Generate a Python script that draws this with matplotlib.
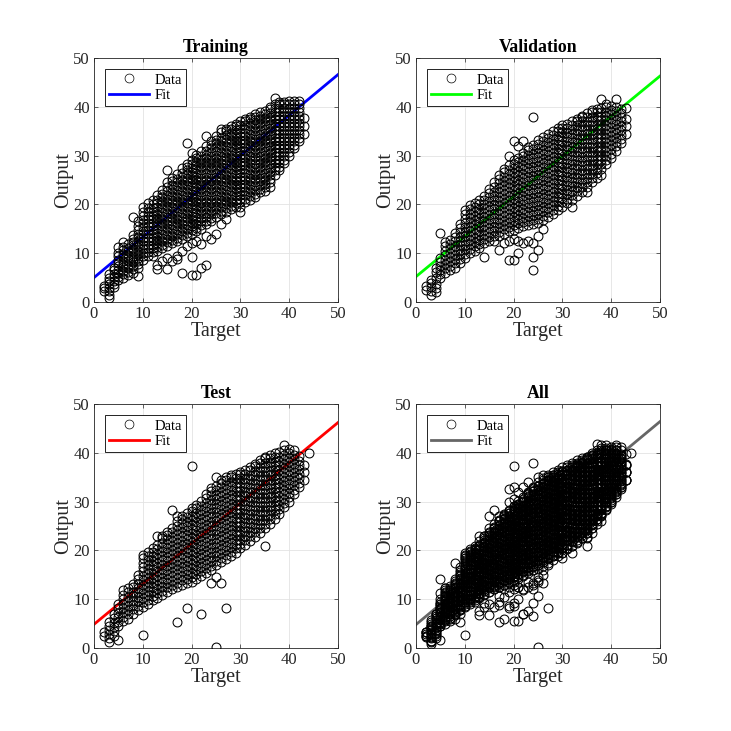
import matplotlib
matplotlib.use("Agg")
import matplotlib.pyplot as plt
from matplotlib.lines import Line2D

plt.rcParams['font.family'] = ['Liberation Serif', 'DejaVu Serif']

# ---------------- data ----------------
train_targets = [2, 3, 4, 5, 6, 7, 8, 9, 10, 11, 12, 13, 14, 15, 16, 17, 18, 19, 20, 21, 22,
                 23, 24, 25, 26, 27, 28, 29, 30, 31, 32, 33, 34, 35, 36, 37, 38, 39, 40, 41, 42, 43]
train_outputs = [
    [2.2, 2.8, 3.2],
    [0.8, 1.5, 2.2, 2.9, 3.6, 4.3, 5.0, 5.7],
    [3.0, 3.7, 4.4, 5.1, 5.8, 6.5, 7.0],
    [4.5, 5.2, 5.9, 6.6, 7.3, 8.0, 8.7, 9.4, 10.1, 11.2],
    [5.0, 5.7, 6.4, 7.1, 7.8, 8.5, 9.2, 9.9, 10.6, 11.3, 12.2],
    [5.5, 6.2, 6.9, 7.6, 8.3, 9.0, 9.7, 10.4, 11.1, 11.8],
    [6.0, 6.7, 7.4, 8.1, 8.8, 9.5, 10.2, 10.9, 11.6, 12.3, 13.0, 13.8, 17.5],
    [5.3, 7.0, 7.7, 8.4, 9.1, 9.8, 10.5, 11.2, 11.9, 12.6, 13.3, 14.0, 14.7, 15.5, 16.5],
    [8.6, 9.4, 10.1, 10.9, 11.6, 12.4, 13.1, 13.9, 14.6, 15.4, 16.1, 16.9, 17.6, 18.4, 19.5],
    [9.5, 10.2, 11.0, 11.7, 12.5, 13.2, 14.0, 14.7, 15.5, 16.2, 17.0, 17.7, 18.5, 19.2, 20.2],
    [9.5, 10.2, 11.0, 11.7, 12.5, 13.2, 14.0, 14.7, 15.5, 16.2, 17.0, 17.7, 18.5, 19.2, 20.0, 20.8],
    [6.8, 7.5, 10.5, 11.2, 12.0, 12.7, 13.5, 14.2, 15.0, 15.7, 16.5, 17.2, 18.0, 18.7, 19.5, 20.2,
     21.0, 22.0],
    [8.5, 11.0, 11.7, 12.5, 13.2, 14.0, 14.7, 15.5, 16.2, 17.0, 17.7, 18.5, 19.2, 20.0, 20.7, 21.5,
     22.2, 23.0],
    [6.8, 9.0, 11.5, 12.2, 13.0, 13.7, 14.5, 15.2, 16.0, 16.7, 17.5, 18.2, 19.0, 19.7, 20.5, 21.2,
     22.0, 22.7, 23.5, 24.5, 27.0],
    [8.5, 12.0, 12.7, 13.5, 14.2, 15.0, 15.7, 16.5, 17.2, 18.0, 18.7, 19.5, 20.2, 21.0, 21.7, 22.5,
     23.2, 24.0, 24.7, 25.5],
    [8.8, 9.5, 12.5, 13.2, 14.0, 14.7, 15.5, 16.2, 17.0, 17.7, 18.5, 19.2, 20.0, 20.7, 21.5, 22.2,
     23.0, 23.7, 24.5, 25.2, 26.2],
    [6.0, 10.5, 13.0, 13.7, 14.5, 15.2, 16.0, 16.7, 17.5, 18.2, 19.0, 19.7, 20.5, 21.2, 22.0, 22.7,
     23.5, 24.2, 25.0, 25.7, 26.5, 27.5],
    [11.5, 13.5, 14.2, 15.0, 15.7, 16.5, 17.2, 18.0, 18.7, 19.5, 20.2, 21.0, 21.7, 22.5, 23.2, 24.0,
     24.7, 25.5, 26.2, 27.0, 27.7, 28.3, 32.5],
    [5.5, 9.2, 12.0, 14.0, 14.7, 15.5, 16.2, 17.0, 17.7, 18.5, 19.2, 20.0, 20.7, 21.5, 22.2, 23.0,
     23.7, 24.5, 25.2, 26.0, 26.7, 27.5, 28.2, 29.0, 30.5],
    [5.5, 12.5, 14.5, 15.2, 16.0, 16.7, 17.5, 18.2, 19.0, 19.7, 20.5, 21.2, 22.0, 22.7, 23.5, 24.2,
     25.0, 25.7, 26.5, 27.2, 28.0, 28.7, 29.5, 30.2],
    [7.0, 11.8, 15.0, 15.7, 16.5, 17.2, 18.0, 18.7, 19.5, 20.2, 21.0, 21.7, 22.5, 23.2, 24.0, 24.7,
     25.5, 26.2, 27.0, 27.7, 28.5, 29.2, 30.0, 31.0],
    [7.5, 13.5, 16.0, 16.7, 17.5, 18.2, 19.0, 19.7, 20.5, 21.2, 22.0, 22.7, 23.5, 24.2, 25.0, 25.7,
     26.5, 27.2, 28.0, 28.7, 29.5, 30.2, 31.0, 32.0, 34.0],
    [13.0, 16.5, 17.2, 18.0, 18.7, 19.5, 20.2, 21.0, 21.7, 22.5, 23.2, 24.0, 24.7, 25.5, 26.2, 27.0,
     27.7, 28.5, 29.2, 30.0, 30.7, 31.5, 32.2, 33.0],
    [14.0, 17.5, 18.2, 19.0, 19.7, 20.5, 21.2, 22.0, 22.7, 23.5, 24.2, 25.0, 25.7, 26.5, 27.2, 28.0,
     28.7, 29.5, 30.2, 31.0, 31.7, 32.5, 33.2, 34.0],
    [16.0, 18.0, 18.7, 19.5, 20.2, 21.0, 21.7, 22.5, 23.2, 24.0, 24.7, 25.5, 26.2, 27.0, 27.7, 28.5,
     29.2, 30.0, 30.7, 31.5, 32.2, 33.0, 33.7, 34.8, 35.5],
    [17.0, 18.5, 19.2, 20.0, 20.7, 21.5, 22.2, 23.0, 23.7, 24.5, 25.2, 26.0, 26.7, 27.5, 28.2, 29.0,
     29.7, 30.5, 31.2, 32.0, 32.7, 33.5, 34.2, 35.0, 35.5],
    [19.0, 19.7, 20.5, 21.2, 22.0, 22.7, 23.5, 24.2, 25.0, 25.7, 26.5, 27.2, 28.0, 28.7, 29.5, 30.2,
     31.0, 31.7, 32.5, 33.2, 34.0, 34.7, 35.5, 36.0],
    [19.5, 20.2, 21.0, 21.7, 22.5, 23.2, 24.0, 24.7, 25.5, 26.2, 27.0, 27.7, 28.5, 29.2, 30.0, 30.7,
     31.5, 32.2, 33.0, 33.7, 34.5, 35.2, 36.0, 36.5],
    [18.5, 19.5, 20.5, 21.2, 22.0, 22.7, 23.5, 24.2, 25.0, 25.7, 26.5, 27.2, 28.0, 28.7, 29.5, 30.2,
     31.0, 31.7, 32.5, 33.2, 34.0, 34.7, 35.5, 36.2, 37.0],
    [20.5, 21.2, 22.0, 22.7, 23.5, 24.2, 25.0, 25.7, 26.5, 27.2, 28.0, 28.7, 29.5, 30.2, 31.0, 31.7,
     32.5, 33.2, 34.0, 34.7, 35.5, 36.2, 37.0, 37.5],
    [21.0, 21.7, 22.5, 23.2, 24.0, 24.7, 25.5, 26.2, 27.0, 27.7, 28.5, 29.2, 30.0, 30.7, 31.5, 32.2,
     33.0, 33.7, 34.5, 35.2, 36.0, 36.7, 37.5, 38.0],
    [21.5, 22.2, 23.0, 23.7, 24.5, 25.2, 26.0, 26.7, 27.5, 28.2, 29.0, 29.7, 30.5, 31.2, 32.0, 32.7,
     33.5, 34.2, 35.0, 35.7, 36.5, 37.2, 38.0, 38.5],
    [22.5, 23.2, 24.0, 24.7, 25.5, 26.2, 27.0, 27.7, 28.5, 29.2, 30.0, 30.7, 31.5, 32.2, 33.0, 33.7,
     34.5, 35.2, 36.0, 36.7, 37.5, 38.2, 39.0],
    [22.8, 23.5, 24.2, 25.0, 25.7, 26.5, 27.2, 28.0, 28.7, 29.5, 30.2, 31.0, 31.7, 32.5, 33.2, 34.0,
     34.7, 35.5, 36.2, 37.0, 37.7, 38.5, 39.2],
    [23.5, 24.5, 25.2, 26.0, 26.7, 27.5, 28.2, 29.0, 29.7, 30.5, 31.2, 32.0, 32.7, 33.5, 34.2, 35.0,
     35.7, 36.5, 37.2, 38.0, 38.7, 39.5, 40.0],
    [26.0, 27.0, 27.7, 28.5, 29.2, 30.0, 30.7, 31.5, 32.2, 33.0, 33.7, 34.5, 35.2, 36.0, 36.7, 37.5,
     38.2, 39.0, 39.7, 40.5, 41.8],
    [27.0, 27.7, 28.5, 29.2, 30.0, 30.7, 31.5, 32.2, 33.0, 33.7, 34.5, 35.2, 36.0, 36.7, 37.5, 38.2,
     39.0, 39.7, 40.5, 41.0],
    [28.5, 29.2, 30.0, 30.7, 31.5, 32.2, 33.0, 33.7, 34.5, 35.2, 36.0, 36.7, 37.5, 38.2, 39.0, 39.7,
     40.5, 41.0],
    [30.0, 30.7, 31.5, 32.2, 33.0, 33.7, 34.5, 35.2, 36.0, 36.7, 37.5, 38.2, 39.0, 39.7, 40.5, 41.2],
    [31.5, 32.2, 33.0, 33.7, 34.5, 35.2, 36.0, 36.7, 37.5, 38.2, 39.0, 39.7, 40.5, 41.2],
    [33.0, 33.7, 34.5, 35.2, 36.0, 36.7, 37.5, 38.2, 39.0, 39.7, 40.5, 41.2],
    [34.5, 36.0, 37.8],
]

val_targets = [2, 3, 4, 5, 6, 7, 8, 9, 10, 11, 12, 13, 14, 15, 16, 17, 18, 19, 20, 21, 22,
               23, 24, 25, 26, 27, 28, 29, 30, 31, 32, 33, 34, 35, 36, 37, 38, 39, 40, 41, 42, 43]
val_outputs = [
    [2.5, 3.3],
    [1.4, 2.2, 3.0, 3.8, 4.6],
    [2.0, 2.8, 3.6, 5.0, 6.2, 7.0],
    [5.0, 5.8, 6.6, 7.4, 8.2, 9.0, 14.2],
    [6.0, 6.9, 7.8, 8.7, 9.6, 10.5, 11.4, 12.2],
    [6.5, 7.4, 8.3, 9.2, 10.1, 11.0, 11.9, 12.8],
    [7.0, 7.9, 8.8, 9.7, 10.6, 11.5, 12.4, 13.3, 14.2],
    [8.0, 8.9, 9.8, 10.7, 11.6, 12.5, 13.4, 14.3, 15.2, 16.0],
    [9.0, 9.9, 10.8, 11.7, 12.6, 13.5, 14.4, 15.3, 16.2, 17.1, 18.0, 18.9],
    [10.0, 10.9, 11.8, 12.7, 13.6, 14.5, 15.4, 16.3, 17.2, 18.1, 19.0, 19.8],
    [10.5, 11.4, 12.3, 13.2, 14.1, 15.0, 15.9, 16.8, 17.7, 18.6, 19.5, 20.3],
    [11.0, 11.9, 12.8, 13.7, 14.6, 15.5, 16.4, 17.3, 18.2, 19.1, 20.0, 20.8],
    [9.3, 12.0, 12.9, 13.8, 14.7, 15.6, 16.5, 17.4, 18.3, 19.2, 20.1, 21.0, 21.8],
    [12.5, 13.4, 14.3, 15.2, 16.1, 17.0, 17.9, 18.8, 19.7, 20.6, 21.5, 22.4, 23.2],
    [12.5, 13.6, 14.5, 15.4, 16.3, 17.2, 18.1, 19.0, 19.9, 20.8, 21.7, 22.6, 23.5, 24.5],
    [10.7, 13.5, 14.4, 15.3, 16.2, 17.1, 18.0, 18.9, 19.8, 20.7, 21.6, 22.5, 23.4, 24.3, 25.2, 26.0],
    [12.0, 14.0, 14.9, 15.8, 16.7, 17.6, 18.5, 19.4, 20.3, 21.2, 22.1, 23.0, 23.9, 24.8, 25.7, 26.6,
     27.2],
    [8.6, 12.5, 14.5, 15.4, 16.3, 17.2, 18.1, 19.0, 19.9, 20.8, 21.7, 22.6, 23.5, 24.4, 25.3, 26.2,
     27.1, 28.0, 30.0],
    [8.6, 13.0, 14.8, 15.7, 16.6, 17.5, 18.4, 19.3, 20.2, 21.1, 22.0, 22.9, 23.8, 24.7, 25.6, 26.5,
     27.4, 28.3, 29.0, 32.9],
    [10.0, 12.5, 15.2, 16.1, 17.0, 17.9, 18.8, 19.7, 20.6, 21.5, 22.4, 23.3, 24.2, 25.1, 26.0, 26.9,
     27.8, 28.7, 29.6, 32.0],
    [12.0, 15.5, 16.4, 17.3, 18.2, 19.1, 20.0, 20.9, 21.8, 22.7, 23.6, 24.5, 25.4, 26.3, 27.2, 28.1,
     29.0, 29.9, 30.6, 32.9],
    [12.5, 15.8, 16.7, 17.6, 18.5, 19.4, 20.3, 21.2, 22.1, 23.0, 23.9, 24.8, 25.7, 26.6, 27.5, 28.4,
     29.3, 30.2, 31.1, 31.8],
    [6.6, 9.3, 12.0, 16.0, 16.9, 17.8, 18.7, 19.6, 20.5, 21.4, 22.3, 23.2, 24.1, 25.0, 25.9, 26.8,
     27.7, 28.6, 29.5, 30.4, 31.3, 32.2, 38.0],
    [10.7, 13.5, 16.2, 17.1, 18.0, 18.9, 19.8, 20.7, 21.6, 22.5, 23.4, 24.3, 25.2, 26.1, 27.0, 27.9,
     28.8, 29.7, 30.6, 31.5, 32.4, 33.2],
    [15.0, 16.8, 17.7, 18.6, 19.5, 20.4, 21.3, 22.2, 23.1, 24.0, 24.9, 25.8, 26.7, 27.6, 28.5, 29.4,
     30.3, 31.2, 32.1, 33.0, 33.8],
    [17.5, 18.4, 19.3, 20.2, 21.1, 22.0, 22.9, 23.8, 24.7, 25.6, 26.5, 27.4, 28.3, 29.2, 30.1, 31.0,
     31.9, 32.8, 33.7, 34.5],
    [18.0, 18.9, 19.8, 20.7, 21.6, 22.5, 23.4, 24.3, 25.2, 26.1, 27.0, 27.9, 28.8, 29.7, 30.6, 31.5,
     32.4, 33.3, 34.2, 35.0],
    [18.8, 19.7, 20.6, 21.5, 22.4, 23.3, 24.2, 25.1, 26.0, 26.9, 27.8, 28.7, 29.6, 30.5, 31.4, 32.3,
     33.2, 34.1, 35.0, 35.6],
    [19.5, 20.4, 21.3, 22.2, 23.1, 24.0, 24.9, 25.8, 26.7, 27.6, 28.5, 29.4, 30.3, 31.2, 32.1, 33.0,
     33.9, 34.8, 35.7, 36.3],
    [20.3, 21.2, 22.1, 23.0, 23.9, 24.8, 25.7, 26.6, 27.5, 28.4, 29.3, 30.2, 31.1, 32.0, 32.9, 33.8,
     34.7, 35.6, 36.5],
    [19.5, 21.0, 21.9, 22.8, 23.7, 24.6, 25.5, 26.4, 27.3, 28.2, 29.1, 30.0, 30.9, 31.8, 32.7, 33.6,
     34.5, 35.4, 36.3, 37.0],
    [21.8, 22.7, 23.6, 24.5, 25.4, 26.3, 27.2, 28.1, 29.0, 29.9, 30.8, 31.7, 32.6, 33.5, 34.4, 35.3,
     36.2, 37.1, 37.6],
    [22.6, 23.5, 24.4, 25.3, 26.2, 27.1, 28.0, 28.9, 29.8, 30.7, 31.6, 32.5, 33.4, 34.3, 35.2, 36.1,
     37.0, 37.9, 38.2],
    [22.6, 23.6, 24.5, 25.4, 26.3, 27.2, 28.1, 29.0, 29.9, 30.8, 31.7, 32.6, 33.5, 34.4, 35.3, 36.2,
     37.1, 38.0, 38.8],
    [24.5, 25.4, 26.3, 27.2, 28.1, 29.0, 29.9, 30.8, 31.7, 32.6, 33.5, 34.4, 35.3, 36.2, 37.1, 38.0,
     38.9, 39.3],
    [25.5, 26.4, 27.3, 28.2, 29.1, 30.0, 30.9, 31.8, 32.7, 33.6, 34.5, 35.4, 36.3, 37.2, 38.1, 39.0,
     39.6],
    [26.0, 27.3, 28.2, 29.1, 30.0, 30.9, 31.8, 32.7, 33.6, 34.5, 35.4, 36.3, 37.2, 38.1, 39.0, 39.8,
     41.7],
    [28.2, 29.1, 30.0, 30.9, 31.8, 32.7, 33.6, 34.5, 35.4, 36.3, 37.2, 38.1, 39.0, 39.9, 40.5],
    [29.5, 30.4, 31.3, 32.2, 33.1, 34.0, 34.9, 35.8, 36.7, 37.6, 38.5, 39.4, 40.2],
    [31.0, 31.9, 32.8, 33.7, 34.6, 35.5, 36.4, 37.3, 38.2, 39.1, 40.0, 41.7],
    [32.5, 33.4, 34.3, 35.2, 36.1, 37.0, 37.9, 38.8, 39.6],
    [34.5, 36.0, 37.5, 39.7],
]

test_targets = [2, 3, 4, 5, 6, 7, 8, 9, 10, 11, 12, 13, 14, 15, 16, 17, 18, 19, 20, 21, 22,
                23, 24, 25, 26, 27, 28, 29, 30, 31, 32, 33, 34, 35, 36, 37, 38, 39, 40, 41, 42, 43, 44]
test_outputs = [
    [2.5, 3.2],
    [1.3, 2.1, 2.9, 3.7, 4.5, 5.3],
    [2.5, 3.4, 4.3, 5.2, 6.1, 7.0],
    [1.6, 4.5, 5.4, 6.3, 7.2, 8.1, 9.0],
    [5.5, 6.4, 7.3, 8.2, 9.1, 10.0, 10.9, 11.9],
    [6.0, 6.9, 7.8, 8.7, 9.6, 10.5, 11.4, 12.3],
    [7.0, 7.9, 8.8, 9.7, 10.6, 11.5, 12.4, 13.2],
    [7.8, 8.7, 9.6, 10.5, 11.4, 12.3, 13.2, 14.1, 15.0],
    [2.7, 8.5, 9.4, 10.3, 11.2, 12.1, 13.0, 13.9, 14.8, 15.7, 16.6, 17.5, 18.4, 19.0],
    [9.0, 9.9, 10.8, 11.7, 12.6, 13.5, 14.4, 15.3, 16.2, 17.1, 18.0, 18.9, 19.6],
    [9.8, 10.7, 11.6, 12.5, 13.4, 14.3, 15.2, 16.1, 17.0, 17.9, 18.8, 19.7, 20.5],
    [10.3, 11.2, 12.1, 13.0, 13.9, 14.8, 15.7, 16.6, 17.5, 18.4, 19.3, 20.2, 21.1, 23.0],
    [10.8, 11.7, 12.6, 13.5, 14.4, 15.3, 16.2, 17.1, 18.0, 18.9, 19.8, 20.7, 21.6, 22.5, 23.0],
    [11.5, 12.4, 13.3, 14.2, 15.1, 16.0, 16.9, 17.8, 18.7, 19.6, 20.5, 21.4, 22.3, 23.2, 23.8],
    [12.0, 12.9, 13.8, 14.7, 15.6, 16.5, 17.4, 18.3, 19.2, 20.1, 21.0, 21.9, 22.8, 23.7, 24.6, 28.3],
    [5.4, 12.5, 13.4, 14.3, 15.2, 16.1, 17.0, 17.9, 18.8, 19.7, 20.6, 21.5, 22.4, 23.3, 24.2, 25.1,
     26.0, 27.0],
    [13.0, 13.9, 14.8, 15.7, 16.6, 17.5, 18.4, 19.3, 20.2, 21.1, 22.0, 22.9, 23.8, 24.7, 25.6, 26.5,
     27.0],
    [8.1, 13.3, 14.2, 15.1, 16.0, 16.9, 17.8, 18.7, 19.6, 20.5, 21.4, 22.3, 23.2, 24.1, 25.0, 25.9,
     26.8, 27.7],
    [13.6, 14.5, 15.4, 16.3, 17.2, 18.1, 19.0, 19.9, 20.8, 21.7, 22.6, 23.5, 24.4, 25.3, 26.2, 27.1,
     28.0, 28.6, 37.2],
    [14.2, 15.1, 16.0, 16.9, 17.8, 18.7, 19.6, 20.5, 21.4, 22.3, 23.2, 24.1, 25.0, 25.9, 26.8, 27.7,
     28.6, 29.4],
    [7.0, 14.8, 15.7, 16.6, 17.5, 18.4, 19.3, 20.2, 21.1, 22.0, 22.9, 23.8, 24.7, 25.6, 26.5, 27.4,
     28.3, 29.2, 30.2],
    [15.4, 16.3, 17.2, 18.1, 19.0, 19.9, 20.8, 21.7, 22.6, 23.5, 24.4, 25.3, 26.2, 27.1, 28.0, 28.9,
     29.8, 30.7, 31.6],
    [13.3, 16.0, 16.9, 17.8, 18.7, 19.6, 20.5, 21.4, 22.3, 23.2, 24.1, 25.0, 25.9, 26.8, 27.7, 28.6,
     29.5, 30.4, 31.3, 32.2, 32.8],
    [0.3, 14.6, 17.0, 17.9, 18.8, 19.7, 20.6, 21.5, 22.4, 23.3, 24.2, 25.1, 26.0, 26.9, 27.8, 28.7,
     29.6, 30.5, 31.4, 32.3, 33.2, 35.1],
    [13.3, 17.6, 18.5, 19.4, 20.3, 21.2, 22.1, 23.0, 23.9, 24.8, 25.7, 26.6, 27.5, 28.4, 29.3, 30.2,
     31.1, 32.0, 32.9, 33.8, 34.4],
    [8.1, 18.2, 19.1, 20.0, 20.9, 21.8, 22.7, 23.6, 24.5, 25.4, 26.3, 27.2, 28.1, 29.0, 29.9, 30.8,
     31.7, 32.6, 33.5, 34.4, 35.0],
    [18.8, 19.7, 20.6, 21.5, 22.4, 23.3, 24.2, 25.1, 26.0, 26.9, 27.8, 28.7, 29.6, 30.5, 31.4, 32.3,
     33.2, 34.1, 35.0, 35.5],
    [19.5, 20.4, 21.3, 22.2, 23.1, 24.0, 24.9, 25.8, 26.7, 27.6, 28.5, 29.4, 30.3, 31.2, 32.1, 33.0,
     33.9, 34.8, 35.6],
    [20.4, 21.3, 22.2, 23.1, 24.0, 24.9, 25.8, 26.7, 27.6, 28.5, 29.4, 30.3, 31.2, 32.1, 33.0, 33.9,
     34.8, 35.7, 36.1],
    [21.2, 22.1, 23.0, 23.9, 24.8, 25.7, 26.6, 27.5, 28.4, 29.3, 30.2, 31.1, 32.0, 32.9, 33.8, 34.7,
     35.6, 36.5],
    [22.0, 22.9, 23.8, 24.7, 25.6, 26.5, 27.4, 28.3, 29.2, 30.1, 31.0, 31.9, 32.8, 33.7, 34.6, 35.5,
     36.4, 37.1],
    [22.8, 23.7, 24.6, 25.5, 26.4, 27.3, 28.2, 29.1, 30.0, 30.9, 31.8, 32.7, 33.6, 34.5, 35.4, 36.3,
     37.2, 37.8],
    [23.6, 24.5, 25.4, 26.3, 27.2, 28.1, 29.0, 29.9, 30.8, 31.7, 32.6, 33.5, 34.4, 35.3, 36.2, 37.1,
     38.0, 38.5],
    [20.8, 24.5, 25.4, 26.3, 27.2, 28.1, 29.0, 29.9, 30.8, 31.7, 32.6, 33.5, 34.4, 35.3, 36.2, 37.1,
     38.0, 38.9, 39.2],
    [25.5, 26.4, 27.3, 28.2, 29.1, 30.0, 30.9, 31.8, 32.7, 33.6, 34.5, 35.4, 36.3, 37.2, 38.1, 39.0,
     39.6],
    [26.5, 27.4, 28.3, 29.2, 30.1, 31.0, 31.9, 32.8, 33.7, 34.6, 35.5, 36.4, 37.3, 38.2, 39.1, 40.0],
    [27.5, 28.4, 29.3, 30.2, 31.1, 32.0, 32.9, 33.8, 34.7, 35.6, 36.5, 37.4, 38.3, 39.2, 40.1],
    [28.8, 29.7, 30.6, 31.5, 32.4, 33.3, 34.2, 35.1, 36.0, 36.9, 37.8, 38.7, 39.6, 40.5, 41.7],
    [30.0, 30.9, 31.8, 32.7, 33.6, 34.5, 35.4, 36.3, 37.2, 38.1, 39.0, 39.9, 40.8],
    [31.5, 32.4, 33.3, 34.2, 35.1, 36.0, 36.9, 37.8, 38.7, 39.6, 40.5],
    [33.0, 33.9, 34.8, 35.7, 36.6, 37.5, 38.4, 39.3],
    [34.5, 36.0, 37.5],
    [39.9],
]

panel_titles = ["Training", "Validation", "Test", "All"]
fit_colors = ["#0000ff", "#00ff00", "#ff0000", "#666666"]
fit_slopes = [0.832, 0.822, 0.827, 0.832]
fit_intercepts = [5.0, 5.2, 4.85, 4.8]
axis_ticks = [0, 10, 20, 30, 40, 50]


def flatten(targets, outputs):
    xs, ys = [], []
    for t, col in zip(targets, outputs):
        for v in col:
            xs.append(t)
            ys.append(v)
    return xs, ys


tx, ty = flatten(train_targets, train_outputs)
vx, vy = flatten(val_targets, val_outputs)
sx, sy = flatten(test_targets, test_outputs)
panel_data = [(tx, ty), (vx, vy), (sx, sy), (tx + vx + sx, ty + vy + sy)]

fig = plt.figure(figsize=(7.31, 7.31), dpi=100)
W = 731.0
positions = [(94, 58), (416, 58), (94, 404), (416, 404)]
size = 244

text_color = "#262626"
for i, (px, py) in enumerate(positions):
    ax = fig.add_axes([px / W, 1 - (py + size) / W, size / W, size / W])
    xs, ys = panel_data[i]
    lo, hi = axis_ticks[0], axis_ticks[-1]
    ax.plot([lo, hi], [fit_intercepts[i] + fit_slopes[i] * lo, fit_intercepts[i] + fit_slopes[i] * hi],
            color=fit_colors[i], lw=2.0, zorder=2)
    ax.plot(xs, ys, linestyle="none", marker="o", ms=6.4, mfc="none", mec="black",
            mew=0.75, zorder=3)
    ax.set_xlim(lo, hi)
    ax.set_ylim(lo, hi)
    ax.set_xticks(axis_ticks)
    ax.set_yticks(axis_ticks)
    ax.grid(True, color="#e3e3e3", lw=0.6, zorder=0)
    ax.set_axisbelow(True)
    ax.tick_params(direction="in", top=True, right=True, length=3, width=0.5,
                   labelsize=12, colors=text_color, pad=3)
    for sp in ax.spines.values():
        sp.set_color(text_color)
        sp.set_linewidth(0.6)
    ax.set_title(panel_titles[i], fontsize=12.8, fontweight="bold", pad=4.5)
    ax.set_xlabel("Target", fontsize=14.5, color=text_color, labelpad=0)
    ax.set_ylabel("Output", fontsize=14.5, color=text_color, labelpad=0)
    handles = [Line2D([], [], linestyle="none", marker="o", ms=6.4, mfc="none", mec="black", mew=0.5),
               Line2D([], [], color=fit_colors[i], lw=2.0)]
    leg = ax.legend(handles, ["Data", "Fit"], loc="upper left", fontsize=10.5, frameon=True,
                    fancybox=False, framealpha=1, edgecolor="black", handlelength=2.75,
                    handletextpad=0.35, labelspacing=0.15, borderpad=0.3, borderaxespad=0.75)
    leg.get_frame().set_linewidth(0.6)

fig.savefig("out.png", dpi=100)
